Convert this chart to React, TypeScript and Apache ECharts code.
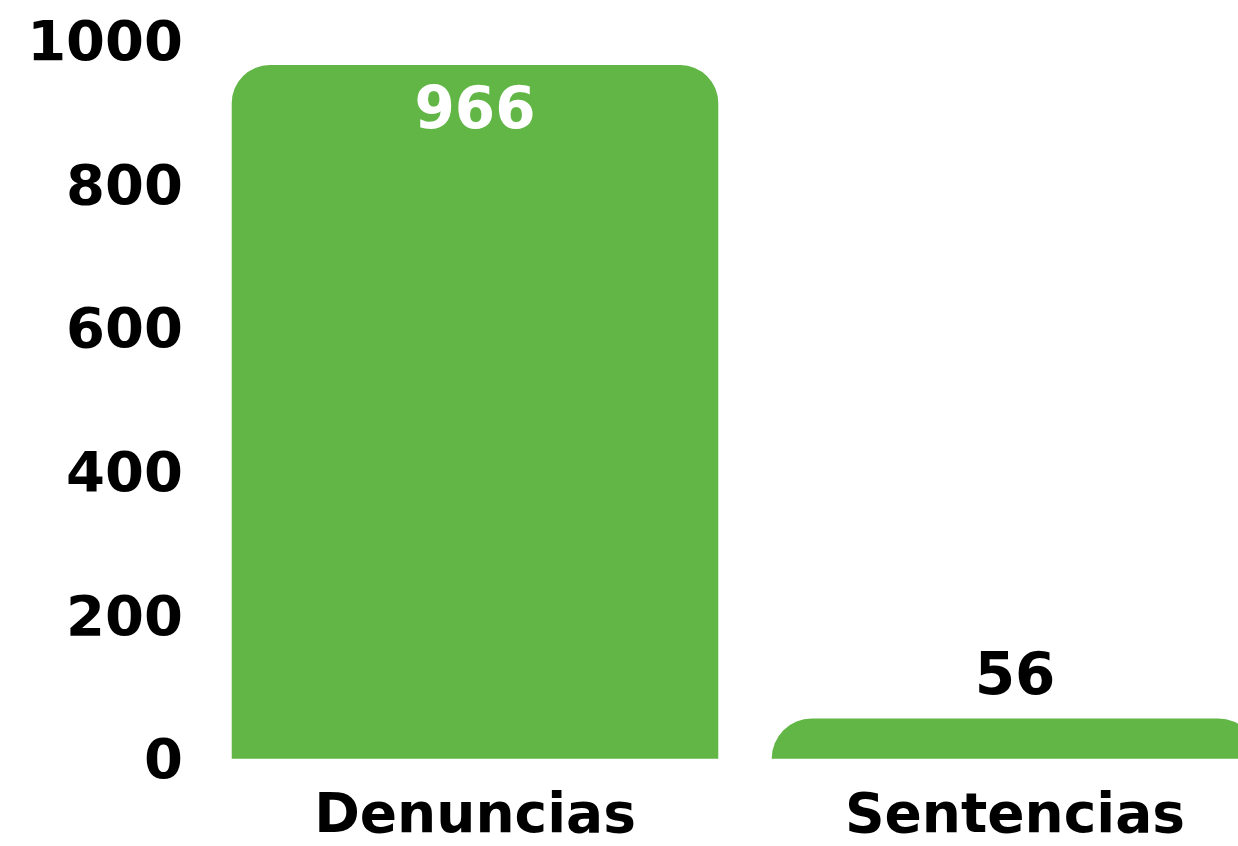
import React, { useEffect, useRef } from "react";
import * as echarts from "echarts";

const categories = ["Denuncias", "Sentencias"];
const values = [966, 56];
const yTicks = [0, 200, 400, 600, 800, 1000];

const GREEN = "#61b645";
const FONT = "DejaVu Sans";

export default function App() {
  const ref = useRef<HTMLDivElement>(null);
  useEffect(() => {
    if (!ref.current) return;
    const chart = echarts.init(ref.current, null, { renderer: "svg" });
    chart.setOption({
      animation: false,
      grid: { left: 205, right: 0, top: 40.6, bottom: 87.3, containLabel: false },
      xAxis: {
        type: "category",
        data: categories,
        axisLine: { show: false },
        axisTick: { show: false },
        axisLabel: {
          margin: 30,
          color: "#000",
          fontFamily: FONT,
          fontWeight: "bold",
          fontSize: 55,
          lineHeight: 48,
        },
      },
      yAxis: {
        type: "value",
        min: yTicks[0],
        max: yTicks[yTicks.length - 1],
        interval: 200,
        splitLine: { show: false },
        axisLine: { show: false },
        axisTick: { show: false },
        axisLabel: {
          margin: 22,
          color: "#000",
          fontFamily: FONT,
          fontWeight: "bold",
          fontSize: 56,
          formatter: (v: number) => String(v),
        },
      },
      series: [
        {
          type: "bar",
          barCategoryGap: "9.9%",
          data: values.map((v, i) => ({
            value: v,
            itemStyle: {
              color: GREEN,
              borderRadius: i === 0 ? [38, 38, 0, 0] : [40, 40, 0, 0],
            },
            label: {
              show: true,
              position: i === 0 ? "insideTop" : "top",
              distance: i === 0 ? 14 : 15,
              color: i === 0 ? "#fff" : "#000",
              fontFamily: FONT,
              fontWeight: "bold",
              fontSize: 58,
            },
          })),
        },
      ],
    });
    return () => chart.dispose();
  }, []);
  return (
    <div
      style={{
        position: "fixed",
        left: 0,
        top: 0,
        width: 1238,
        height: 846,
        overflow: "hidden",
        background: "#fff",
      }}
    >
      <div ref={ref} style={{ width: 1285, height: 846 }} />
    </div>
  );
}
